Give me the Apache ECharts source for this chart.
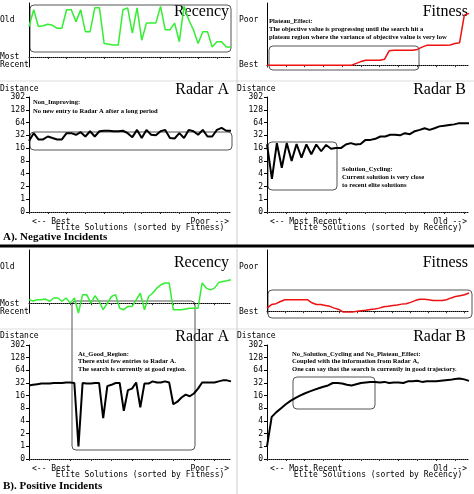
<!DOCTYPE html>
<html><head><meta charset="utf-8">
<script src="https://cdn.jsdelivr.net/npm/echarts@6/dist/echarts.min.js"></script>
<style>html,body{margin:0;padding:0;background:#fff}#c{width:474px;height:494px}</style>
</head><body><div id="c"></div>
<script>
// ---- data ----
const distanceTicks = [0,1,2,4,8,16,32,64,128,302];
const recencyA = [0.82,1.27,0.82,0.84,0.88,0.85,0.77,0.77,1.27,1.27,0.95,1.27,0.68,0.68,1.32,1.32,0.36,0.34,0.32,0.32,1.27,1.32,0.64,1.32,0.45,0.91,0.91,0.91,1.36,0.73,0.73,0.91,0.41,1.36,1.0,0.73,0.36,0.68,0.68,0.27,0.41,0.41,0.27,0.27];
const radarA_A = [23.5,36,25.6,25.6,30,27.6,25.6,25.6,36,36,33,38,30,40,30,40,41,41,40,40,41,36,29,43,27.6,43,33,32,40,43,27.6,27,36,27.6,43,40,33,43,30,30,43,48,41,41];
const fitnessA = [0,0,0,0,0,0,0,0,0,0,0,0,0,0,0,0,0,0,0,0.04,0.08,0.11,0.11,0.11,0.11,0.13,0.32,0.33,0.33,0.33,0.33,0.33,0.35,0.40,0.44,0.44,0.44,0.44,0.44,0.45,0.48,0.50,1.11,1.15];
const radarB_A = [19.5,3,21,5.5,21,8,20,9.5,19.5,11.5,19.5,13.5,19,15.5,16,16,19.5,21,19.5,20,25,25,26.5,30,30,33,33,32,36,34,40,43,47,43,47,52,54,56,58,62,62,62];
const recencyB = [0.09,0.06,0.09,0.09,0.11,0.05,0.14,0.14,0.05,0.14,0,0.14,-0.27,0.23,0.23,0,0.2,0.05,-0.18,0,0.18,0.23,-0.14,-0.18,-0.09,-0.09,0.09,0.27,-0.18,0.18,0.27,0.41,0.5,0.55,0.55,-0.18,-0.18,-0.18,-0.16,-0.14,-0.14,-0.14,0.55,0.41,0.36,0.41,0.56,0.59,0.61,0.64];
const radarA_B = [28,29,30,31,31,31,32,32,32,33,33,32,1,32,31,31,32,32,4.7,27,29,32,32,7,21.7,23.5,33,8.5,31,31,35,33,33,35,33,10,11.5,14.5,17,15.5,18,23.5,33,33,33,33,35,37,37,35];
const fitnessB = [0.07,0.15,0.17,0.22,0.26,0.26,0.26,0.26,0.26,0.26,0.19,0.15,0.15,0.13,0.11,0.07,0.04,-0.02,-0.02,-0.02,0,0.01,0.02,0.04,0.05,0.07,0.1,0.11,0.13,0.14,0.16,0.17,0.2,0.24,0.27,0.27,0.26,0.24,0.24,0.24,0.26,0.3,0.33,0.35,0.37,0.41];
const radarB_B = [1,5,6.5,8,10,12,14,16,18,20,22,24,26,28,32,32,31,29,28,30,32,33,34,34,33,34,32,33,33,32,35,35,36,34,35,35,35,36,37,38,40,41,39,36];

function toIdx(d){
  for(let i=0;i<distanceTicks.length-1;i++){
    const a=distanceTicks[i],b=distanceTicks[i+1];
    if(d<=b){ if(i===0) return d/b; return i+Math.log2(d/a)/Math.log2(b/a); }
  }
  return 9;
}
const cats = n => Array.from({length:n},(_,i)=>i);
const mono = '"DejaVu Sans Mono", monospace', serif = '"Liberation Serif","DejaVu Serif",serif';

const panels = [
  {l:29,r:243,t:3,h:64,min:-0.27,max:1.45,data:recencyA,color:'#33ee33',type:'rec'},
  {l:29,r:243,t:97,h:115,data:radarA_A.map(toIdx),color:'#000',type:'radar'},
  {l:267,r:5,t:3,h:64,min:-0.04,max:1.38,data:fitnessA,color:'#ee1111',type:'fit'},
  {l:267,r:5,t:97,h:115,data:radarB_A.map(toIdx),color:'#000',type:'radar',mark:1},
  {l:29,r:243,t:250,h:63,min:-0.27,max:1.45,data:recencyB,color:'#33ee33',type:'rec'},
  {l:29,r:243,t:345,h:114,data:radarA_B.map(toIdx),color:'#000',type:'radar',mark:12},
  {l:267,r:5,t:250,h:63,min:-0.04,max:1.38,data:fitnessB,color:'#ee1111',type:'fit'},
  {l:267,r:5,t:345,h:114,data:radarB_B.map(toIdx),color:'#000',type:'radar',mark:0},
];
const grid=[],xAxis=[],yAxis=[],series=[];
panels.forEach((p,i)=>{
  grid.push({left:p.l,right:p.r,top:p.t,height:p.h});
  xAxis.push({gridIndex:i,type:'category',data:cats(p.data.length),boundaryGap:false,
    axisLine:{lineStyle:{color:'#000',width:1,type:'dotted'}},axisTick:{show:true,length:2,inside:false,lineStyle:{color:'#333'}},axisLabel:{show:false}});
  if(p.type==='radar'){
    yAxis.push({gridIndex:i,type:'value',min:0,max:9,interval:1,splitLine:{show:false},
      axisLine:{show:true,lineStyle:{color:'#000'}},axisTick:{show:true,length:3,lineStyle:{color:'#000'}},
      axisLabel:{fontFamily:mono,fontSize:8,color:'#000',margin:4,formatter:v=>distanceTicks[v]}});
  } else {
    yAxis.push({gridIndex:i,type:'value',min:p.min,max:p.max,splitLine:{show:false},
      axisLine:{show:true,lineStyle:{color:'#000'}},axisTick:{show:false},axisLabel:{show:false}});
  }
  const data=p.data.map((v,k)=>k===p.mark?{value:v,symbol:'rect',symbolSize:4,itemStyle:{color:'#000'}}:v);
  series.push({type:'line',xAxisIndex:i,yAxisIndex:i,data,showSymbol:true,symbol:'none',
    lineStyle:{color:p.color,width:p.type==='radar'?2:1.5},animation:false});
});

const G=[];
const txt=(x,y,t,o={})=>G.push({type:'text',x,y,style:Object.assign({text:t,fill:'#000',font:'8px '+mono},o)});
const box=(x,y,w,h)=>G.push({type:'rect',shape:{x,y,width:w,height:h,r:4},style:{fill:'none',stroke:'#555',lineWidth:1}});
const line=(x1,y1,x2,y2,c,w)=>G.push({type:'line',shape:{x1,y1,x2,y2},style:{stroke:c,lineWidth:w}});
line(0,81,474,81,'#ddd',1); line(0,329,474,329,'#ddd',1); line(237,0,237,245,'#ccc',1);line(237,249,237,494,'#ccc',1);
line(0,246,474,246,'#000',3);
[0,247].forEach(off=>{
  txt(229,4+off+(off?4:0),'Recency',{font:'16px '+serif,align:'right'});
  txt(468,4+off+(off?4:0),'Fitness',{font:'16px '+serif,align:'right'});
  txt(229,82+off,'Radar A',{font:'16px '+serif,align:'right'});
  txt(466,82+off,'Radar B',{font:'16px '+serif,align:'right'});
  txt(0,16+off,'Old'); txt(0,53+off,'Most'); txt(0,61+off,'Recent');
  txt(239,16+off,'Poor'); txt(239,61+off,'Best');
  txt(0,85+off,'Distance'); txt(237,85+off,'Distance');
  txt(32,218+off,'<-- Best'); txt(229,218+off,'Poor -->',{align:'right'});
  txt(140,224+off,'Elite Solutions (sorted by Fitness)',{align:'center'});
  txt(270,218+off,'<-- Most Recent'); txt(467,218+off,'Old -->',{align:'right'});
  txt(378,224+off,'Elite Solutions (sorted by Recency)',{align:'center'});
});
const ns='bold 6.6px '+serif;
txt(3,232,'A). Negative Incidents',{font:'bold 11px '+serif});
txt(3,481,'B). Positive Incidents',{font:'bold 11px '+serif});
box(30,5,201,47);
box(30,132,202,18);
txt(33,99,'Non_Improving:',{font:ns}); txt(33,108,'No new entry to Radar A after a long period',{font:ns});
box(269,46,150,24);
txt(269,18,'Plateau_Effect:',{font:ns});
txt(269,26,'The objective value is progressing until the search hit a',{font:ns});
txt(269,34,'plateau region where the variance of objective value is very low',{font:ns});
box(268,142,69,48);
txt(342,166,'Solution_Cycling:',{font:ns});
txt(342,174,'Current solution is very close',{font:ns});
txt(342,182,'to recent elite solutions',{font:ns});
box(72,301,123,149);
txt(78,351,'At_Good_Region:',{font:ns});
txt(78,358,'There exist few entries to Radar A.',{font:ns});
txt(78,366,'The search is currently at good region.',{font:ns});
box(268,290,204,28);
box(293,377,82,32);
txt(292,351,'No_Solution_Cycling and No_Plateau_Effect:',{font:ns});
txt(292,358,'Coupled with the information from Radar A,',{font:ns});
txt(292,366,'One can say that the search is currently in good trajectory.',{font:ns});

const chart=echarts.init(document.getElementById('c'));
chart.setOption({animation:false,grid,xAxis,yAxis,series,graphic:G});
</script></body></html>
